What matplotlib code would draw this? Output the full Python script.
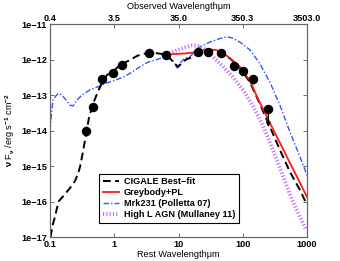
import matplotlib
matplotlib.use("Agg")
import matplotlib.pyplot as plt
import numpy as np

plt.rcParams['font.family'] = ['Liberation Sans', 'DejaVu Sans']
plt.rcParams['font.weight'] = 'bold'
plt.rcParams['mathtext.fontset'] = 'custom'
plt.rcParams['mathtext.rm'] = 'Liberation Sans:bold'
plt.rcParams['mathtext.it'] = 'Liberation Sans:bold'
plt.rcParams['mathtext.bf'] = 'Liberation Sans:bold'

# ---- data ----
cig_x = [0.1018, 0.111, 0.1196, 0.1285, 0.138, 0.165, 0.205, 0.245, 0.273, 0.293, 0.326, 0.363,
         0.404, 0.467, 0.558, 0.644, 0.771, 0.957, 1.14, 1.37, 1.76, 2.26, 2.8, 3.6, 4.6, 6.39,
         8.21, 9.83, 11.3, 13.1, 15.1, 18.1, 21.6, 30.9, 44.3, 63.3, 90.6, 130, 185, 265, 380,
         543, 778, 1000]
cig_y = [1e-17, 2.3e-17, 3.7e-17, 6.6e-17, 1.03e-16, 1.5e-16, 2.4e-16, 3.8e-16, 6.0e-16, 9.4e-16,
         2.5e-15, 8.0e-15, 2.25e-14, 5.6e-14, 1.26e-13, 2.18e-13, 3.66e-13, 4.6e-13, 6.15e-13,
         7.7e-13, 9.7e-13, 1.26e-12, 1.43e-12, 1.55e-12, 1.5e-12, 1.38e-12, 8.8e-13, 6.15e-13,
         8.0e-13, 1.0e-12, 1.1e-12, 1.34e-12, 1.63e-12, 1.79e-12, 1.57e-12, 1.07e-12, 5.8e-13,
         2.25e-13, 5.6e-14, 1.26e-14, 2.8e-15, 6.8e-16, 2.1e-16, 8e-17]

gb_x = [6.39, 8.82, 12.6, 16.8, 23.2, 30.9, 38.3, 47.5, 63.3, 90.6, 130, 173, 207, 265, 423, 650, 1000]
gb_y = [1.38e-12, 1.43e-12, 1.48e-12, 1.57e-12, 1.79e-12, 1.91e-12, 1.85e-12, 1.57e-12, 1.10e-12,
        6.15e-13, 2.48e-13, 7.7e-14, 4.0e-14, 1.63e-14, 3.0e-15, 6.4e-16, 1.34e-16]

mrk_x = [0.1, 0.105, 0.111, 0.120, 0.133, 0.154, 0.177, 0.204, 0.228, 0.263, 0.315, 0.42, 0.60,
         0.77, 1.03, 1.38, 1.89, 2.5, 3.4, 4.6, 6.2, 7.3, 8.5, 9.5, 10.6, 12.6, 15.0, 21.5, 30.8,
         44.3, 56, 70, 90, 130, 186, 267, 383, 550, 780, 1000]
mrk_y = [1.0e-14, 2.7e-14, 7.2e-14, 8.8e-14, 1.1e-13, 1.0e-13, 7.2e-14, 5.2e-14, 4.9e-14, 7.2e-14,
         1.0e-13, 1.4e-13, 1.8e-13, 2.2e-13, 2.6e-13, 3.2e-13, 4.4e-13, 6.2e-13, 8.5e-13, 1.0e-12,
         1.2e-12, 1.1e-12, 8.5e-13, 5.8e-13, 8e-13, 1.1e-12, 1.2e-12, 2.25e-12, 3.1e-12, 3.9e-12,
         4.4e-12, 4.0e-12, 3.1e-12, 1.85e-12, 7.5e-13, 2.2e-13, 4.9e-14, 8.5e-15, 1.8e-15, 5.5e-16]

agn_x = [6.39, 8.82, 12.6, 16.2, 19.4, 24.1, 34.4, 49.3, 70.5, 101, 144, 207, 296, 423, 605, 964]
agn_y = [1.43e-12, 1.74e-12, 2.18e-12, 2.48e-12, 2.48e-12, 2.11e-12, 1.18e-12, 6.35e-13, 3.21e-13,
         1.38e-13, 4.9e-14, 1.34e-14, 2.82e-15, 5.2e-16, 9.7e-17, 1.6e-17]

obs_x = [0.363, 0.462, 0.638, 0.967, 1.31, 3.47, 6.39, 20.3, 29.1, 45.9, 73.1, 99.8, 146]
obs_y = [9.7e-15, 4.6e-14, 2.8e-13, 4.1e-13, 7.0e-13, 1.5e-12, 1.34e-12, 1.66e-12, 1.66e-12,
         1.5e-12, 6.6e-13, 4.8e-13, 2.8e-13]
obs_lo = [7.0e-15, 4.6e-14, 2.8e-13, 4.1e-13, 7.0e-13, 1.5e-12, 1.34e-12, 1.66e-12, 1.66e-12,
          1.5e-12, 6.6e-13, 4.8e-13, 2.1e-13]
obs_hi = [1.3e-14, 4.6e-14, 2.8e-13, 4.1e-13, 7.0e-13, 1.5e-12, 1.34e-12, 1.66e-12, 1.66e-12,
          1.5e-12, 6.6e-13, 4.8e-13, 3.7e-13]

ul_x = [250]
ul_y = [4.0e-14]
ul_to = [1.25e-14]

x_ticks = [0.1, 1, 10, 100, 1000]
x_labels = ['0.1', '1', '10', '100', '1000']
top_labels = ['0.4', '3.5', '35.0', '350.3', '3503.0']
y_ticks = [1e-17, 1e-16, 1e-15, 1e-14, 1e-13, 1e-12, 1e-11]
y_labels = ['1e\u221217', '1e\u221216', '1e\u221215', '1e\u221214', '1e\u221213', '1e\u221212', '1e\u221211']

# ---- figure ----
fig = plt.figure(figsize=(3.4, 2.61), dpi=100)
ax = fig.add_axes([50/340, 24/261, 257/340, 213/261])
ax.set_xscale('log')
ax.set_yscale('log')

FS = 6.6
ax.plot(cig_x, cig_y, color='black', lw=1.4, dashes=(4, 2.2), label='CIGALE Best\u2212fit', zorder=3)
ax.plot(gb_x, gb_y, color='#ff1a1a', lw=1.3, label='Greybody+PL', zorder=4)
ax.plot(mrk_x, mrk_y, color='#3355ff', lw=1.0, dashes=(4, 1.5, 1, 1.5), label='Mrk231 (Polletta 07)', zorder=2)
ax.plot(agn_x, agn_y, color='#cc66ff', lw=2.8, dashes=(0.3, 0.55), label='High L AGN (Mullaney 11)', zorder=2)

yerr = [np.array(obs_y) - np.array(obs_lo), np.array(obs_hi) - np.array(obs_y)]
ax.errorbar(obs_x, obs_y, yerr=yerr, fmt='o', color='black', ms=5.8, elinewidth=1.0, capsize=0, zorder=5)
ax.plot(ul_x, ul_y, 'o', color='black', ms=5.8, zorder=5)
for x0, y0, y1 in zip(ul_x, ul_y, ul_to):
    ax.annotate('', xy=(x0, y1), xytext=(x0, y0),
                arrowprops=dict(arrowstyle='-|>', color='black', lw=0.9, mutation_scale=6,
                                shrinkA=0, shrinkB=0), zorder=5)

ax.set_xlim(0.1, 1000)
ax.set_ylim(1e-17, 1e-11)
ax.set_xticks(x_ticks)
ax.set_xticklabels(x_labels)
ax.set_yticks(y_ticks)
ax.set_yticklabels(y_labels)
ax.minorticks_off()
ax.tick_params(direction='in', length=3, width=0.6, labelsize=FS, pad=2, color='#555555',
               right=True, top=False)
for s in ax.spines.values():
    s.set_color('#666666')
    s.set_linewidth(0.8)

ax.set_xlabel('Rest Wavelength\u03bcm', fontsize=FS, labelpad=1)
ax.set_ylabel(r'$\nu$ F$_\nu$ /erg s$^{-1}$ cm$^{-2}$', fontsize=FS, labelpad=3)

ax2 = ax.twiny()
ax2.set_xscale('log')
ax2.set_xlim(ax.get_xlim())
ax2.set_xticks(x_ticks)
ax2.set_xticklabels(top_labels)
ax2.minorticks_off()
ax2.tick_params(direction='in', length=3, width=0.6, labelsize=FS, pad=1, color='#555555')
ax2.set_xlabel('Observed Wavelength\u03bcm', fontsize=FS, labelpad=3)
for s in ax2.spines.values():
    s.set_color('#666666')
    s.set_linewidth(0.8)

leg = ax.legend(loc='lower left', bbox_to_anchor=((99-50)/257, (237-223)/213), borderaxespad=0,
                fontsize=FS, frameon=True, fancybox=False, edgecolor='black', framealpha=1,
                handlelength=1.8, handletextpad=0.5, labelspacing=0.22, borderpad=0.4)
leg.get_frame().set_linewidth(0.8)

fig.savefig('out.png', dpi=100)
